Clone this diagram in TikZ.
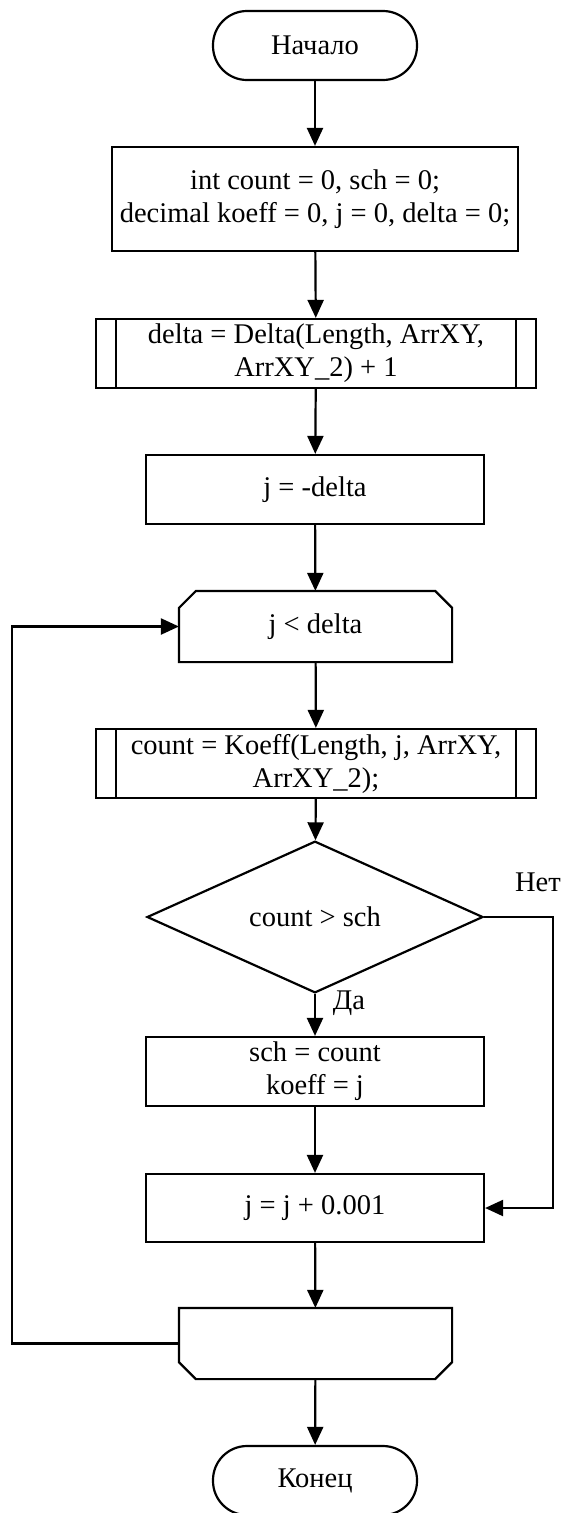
\documentclass[tikz,border=0pt]{standalone}
\usepackage{fontspec}
\setmainfont{Liberation Serif}
\usetikzlibrary{shapes.geometric,arrows.meta}

\tikzset{
  base/.style={draw, line width=2.2pt, inner sep=0pt, align=center,
    font=\fontsize{28.5}{33}\selectfont},
  term/.style={base, rounded corners=34pt, minimum width=204pt, minimum height=69pt},
  box/.style={base, rectangle, minimum width=338pt, minimum height=69pt},
  subproc/.style={base, rectangle, minimum width=440pt, minimum height=69pt,
    path picture={
      \draw[line width=2.2pt] ([xshift=20pt]path picture bounding box.north west) -- ([xshift=20pt]path picture bounding box.south west);
      \draw[line width=2.2pt] ([xshift=-20pt]path picture bounding box.north east) -- ([xshift=-20pt]path picture bounding box.south east);
    }},
  cond/.style={base, diamond, minimum width=336pt, minimum height=103pt},
  loopbox/.style={base, draw=none, rectangle, minimum width=271pt, minimum height=69pt},
  edge/.style={line width=2.2pt, line join=miter},
  lbl/.style={font=\fontsize{28.5}{33}\selectfont, inner sep=0pt},
  arr/.style={line width=2.2pt, -{Triangle[length=18pt,width=16pt]}}
}

\begin{document}
\begin{tikzpicture}[x=1pt, y=-1pt]

  %% ════ 节点 ════
  \node[term]    (start)  at (315,45.5)   {Начало};
  \node[box, minimum width=406pt, minimum height=104pt] (init) at (315,199)
    {int count = 0, sch = 0;\\decimal koeff = 0, j = 0, delta = 0;};
  \node[subproc] (dcall)  at (316,353.5)  {delta = Delta(Length, ArrXY,\\ArrXY\_2) + 1};
  \node[box]     (jinit)  at (315,489.5)  {j = -delta};
  \node[loopbox] (lstart) at (315.5,626.5) {j < delta};
  \node[subproc] (kcall)  at (316,763.5)  {count = Koeff(Length, j, ArrXY,\\ArrXY\_2);};
  \node[cond]    (test)   at (315,917)    {count > sch};
  \node[box]     (upd)    at (315,1071.5) {sch = count\\koeff = j};
  \node[box, minimum height=68pt] (incr) at (315,1208) {j = j + 0.001};
  \node[loopbox] (lend)   at (315.5,1343.5) {};
  \node[term]    (stop)   at (315,1480.5) {Конец};

  %% ════ 循环框（срезанные углы）════
  \draw[edge] ([yshift=-17pt]lstart.north west) -- ([xshift=17pt]lstart.north west)
    -- ([xshift=-17pt]lstart.north east) -- ([yshift=-17pt]lstart.north east)
    -- (lstart.south east) -- (lstart.south west) -- cycle;
  \draw[edge] (lend.north west) -- (lend.north east)
    -- ([yshift=17pt]lend.south east) -- ([xshift=-17pt]lend.south east)
    -- ([xshift=17pt]lend.south west) -- ([yshift=17pt]lend.south west) -- cycle;

  %% ════ 标签 ════
  \node[lbl] (yes) at (349,1003) {Да};
  \node[lbl] (no)  at (538,882)  {Нет};

  \coordinate (back) at (12,0);
  \coordinate (side) at (553,0);

  %% ════ 连线 ════
  \draw[arr] (start) -- (init);
  \draw[arr] (init) -- (dcall);
  \draw[arr] (dcall) -- (jinit);
  \draw[arr] (jinit) -- (lstart);
  \draw[arr] (lstart) -- (kcall);
  \draw[arr] (kcall) -- (test);
  \draw[arr] (test) -- (upd);
  \draw[arr] (upd) -- (incr);
  \draw[arr] (incr) -- (lend);
  \draw[arr] (lend) -- (stop);
  \draw[arr] (test.east) -- (test.east -| side) |- (incr.east);
  \draw[arr] (lend.west) -- (lend.west -| back) |- (lstart.west);

  % 钉死画布
  \pgfresetboundingbox
  \path[use as bounding box] (0,0) rectangle (565,1513);
\end{tikzpicture}
\end{document}
